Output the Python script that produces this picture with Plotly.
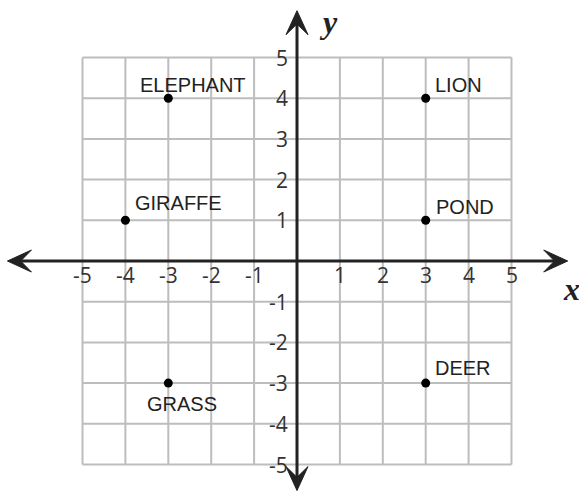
import plotly.graph_objects as go

# ── data ──────────────────────────────────────────────────────────────────────
names = ['ELEPHANT', 'LION', 'GIRAFFE', 'POND', 'GRASS', 'DEER']
px = [-3, 3, -4, 3, -3, 3]
py = [4, 4, 1, 1, -3, -3]

grid_vals = [-5, -4, -3, -2, -1, 0, 1, 2, 3, 4, 5]
x_ticks = [-5, -4, -3, -2, -1, 1, 2, 3, 4, 5]
y_ticks = [5, 4, 3, 2, 1, -1, -2, -3, -4, -5]

# label offsets in pixels (xshift of left edge, yshift of centre)
LABEL_SHIFT = {
    'ELEPHANT': (-30, 13), 'LION': (7, 13), 'GIRAFFE': (8, 17),
    'POND': (8, 13), 'GRASS': (-23, -21), 'DEER': (7, 15),
}

W, H = 579, 494
XU, YU = 42.9, 40.7            # pixels per unit
X0_PX, Y0_PX = 297, 261        # origin in pixels
XR = [-X0_PX / XU, (W - X0_PX) / XU]
YR = [-(H - Y0_PX) / YU, Y0_PX / YU]

GRID = '#bdbdbd'
AXIS = '#222222'
TICKFONT = dict(family='Open Sans, sans-serif', size=21, color='#333333')
LABFONT = dict(family='Liberation Sans, Arial, sans-serif', size=20, color='#222222')

fig = go.Figure()

# ── grid ──────────────────────────────────────────────────────────────────────
for v in grid_vals:
    fig.add_shape(type='line', x0=v, x1=v, y0=-5, y1=5,
                  line=dict(color=GRID, width=2), layer='below')
    fig.add_shape(type='line', x0=-5, x1=5, y0=v, y1=v,
                  line=dict(color=GRID, width=2), layer='below')

# ── axes with arrowheads ──────────────────────────────────────────────────────
x_left, x_right = -6.75, 6.31
y_bot, y_top = -5.64, 6.15
fig.add_shape(type='line', x0=x_left + 0.3, x1=x_right - 0.3, y0=0, y1=0,
              line=dict(color=AXIS, width=3))
fig.add_shape(type='line', x0=0, x1=0, y0=y_bot + 0.3, y1=y_top - 0.3,
              line=dict(color=AXIS, width=3))

def head(tx, ty, dx, dy, L=24, Wd=22, notch=0.55):
    # dx,dy: unit direction (pixel space, y up); returns path in data coords
    nx, ny = -dy, dx
    pts = [(0, 0),
           (-L * dx + Wd / 2 * nx, -L * dy + Wd / 2 * ny),
           (-L * notch * dx, -L * notch * dy),
           (-L * dx - Wd / 2 * nx, -L * dy - Wd / 2 * ny)]
    s = ' L '.join(f'{tx + a / XU:.4f},{ty + b / YU:.4f}' for a, b in pts)
    return f'M {s} Z'

for tx, ty, dx, dy in [(x_right, 0, 1, 0), (x_left, 0, -1, 0),
                       (0, y_top, 0, 1), (0, y_bot, 0, -1)]:
    fig.add_shape(type='path', path=head(tx, ty, dx, dy),
                  fillcolor=AXIS, line=dict(color=AXIS, width=1))

# ── tick labels ───────────────────────────────────────────────────────────────
for t in x_ticks:
    fig.add_annotation(x=t, y=0, text=str(t), showarrow=False,
                       xanchor='center', yanchor='middle', yshift=-14,
                       font=TICKFONT)
for t in y_ticks:
    fig.add_annotation(x=0, y=t, text=str(t), showarrow=False,
                       xanchor='right', yanchor='middle', xshift=-7,
                       font=TICKFONT)

# ── points ────────────────────────────────────────────────────────────────────
fig.add_trace(go.Scatter(x=px, y=py, mode='markers',
                         marker=dict(color='black', size=9),
                         showlegend=False, hoverinfo='skip'))
for n, xv, yv in zip(names, px, py):
    sx, sy = LABEL_SHIFT[n]
    fig.add_annotation(x=xv, y=yv, text=n, showarrow=False,
                       xanchor='left', yanchor='middle',
                       xshift=sx, yshift=sy, font=LABFONT)

# ── axis letters ──────────────────────────────────────────────────────────────
fig.add_annotation(xref='paper', yref='paper', x=571 / W, y=1 - 289 / H,
                   xanchor='center', yanchor='middle',
                   text='<i><b>x</b></i>', showarrow=False,
                   font=dict(family='Liberation Serif, serif', size=32, color=AXIS))
fig.add_annotation(xref='paper', yref='paper', x=328 / W, y=1 - 22 / H,
                   xanchor='center', yanchor='middle',
                   text='<i><b>y</b></i>', showarrow=False,
                   font=dict(family='Liberation Serif, serif', size=32, color=AXIS))

fig.update_layout(
    width=W, height=H,
    margin=dict(l=0, r=0, t=0, b=0),
    paper_bgcolor='white', plot_bgcolor='white',
    xaxis=dict(range=XR, visible=False, fixedrange=True),
    yaxis=dict(range=YR, visible=False, fixedrange=True),
)

fig.write_html('out.html', config={'displayModeBar': False},
               post_script="document.body.style.margin='0';")
